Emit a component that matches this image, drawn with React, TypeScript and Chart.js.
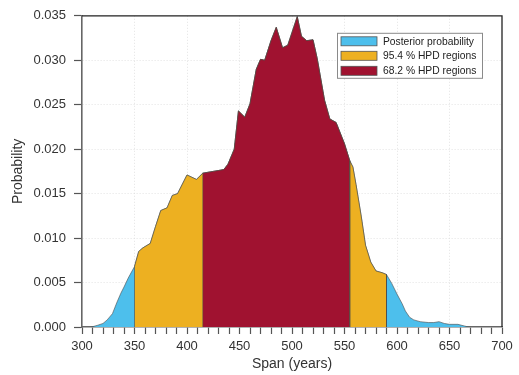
import React, { useEffect, useRef } from "react";
import { Chart, registerables } from "chart.js";

Chart.register(...registerables);

// Span (years) sampled along the posterior curve
const spanYears = [
  309, 315, 320, 324, 329, 333, 337, 340, 344, 350,
  354, 358, 365, 370, 375, 381, 386, 391, 400, 409,
  415, 425, 435, 439, 445, 449, 455, 460, 466, 470,
  474, 480, 485, 491, 496, 505, 509, 514, 520, 524,
  531, 536, 542, 550, 555, 558, 561, 566, 570, 575,
  580, 586, 590, 595, 600, 605, 608, 612, 616, 622,
  630, 635, 640, 645, 650, 658, 668,
];
// Probability at each span
const probability = [
  0, 0.0002, 0.0004, 0.0008, 0.0015, 0.0027, 0.0038, 0.0045, 0.0055, 0.0068,
  0.0085, 0.0089, 0.0094, 0.0113, 0.0131, 0.0134, 0.0148, 0.015, 0.0171, 0.0166,
  0.0173, 0.0175, 0.0177, 0.0183, 0.02, 0.0243, 0.0236, 0.0251, 0.029, 0.0301,
  0.03, 0.0322, 0.0337, 0.0314, 0.0317, 0.0349, 0.0327, 0.0322, 0.0323, 0.0302,
  0.0255, 0.0234, 0.023, 0.0206, 0.0187, 0.018, 0.016, 0.0124, 0.0092, 0.0073,
  0.0063, 0.0061, 0.0059, 0.0049, 0.0037, 0.0026, 0.0018, 0.0011, 0.0008, 0.0006,
  0.0005, 0.0005, 0.0006, 0.0004, 0.0003, 0.0003, 0,
];

const fullRange = [309, 668];
const hpd954 = [350, 590];
const hpd682 = [415, 555];

const seriesLabels = ["Posterior probability", "95.4 % HPD regions", "68.2 % HPD regions"];
const seriesColors = ["#4DBFEC", "#EDB021", "#A01230"];

const xMin = 300;
const xMax = 700;
const yMin = 0;
const yMax = 0.035;

function regionPoints(range: number[]) {
  const [lo, hi] = range;
  const pts: { x: number; y: number }[] = [{ x: lo, y: 0 }];
  for (let i = 0; i < spanYears.length; i++) {
    if (spanYears[i] >= lo && spanYears[i] <= hi) pts.push({ x: spanYears[i], y: probability[i] });
  }
  pts.push({ x: hi, y: 0 });
  return pts;
}

const FONT = "'Liberation Sans', Arial, Helvetica, sans-serif";

const framePlugin = {
  id: "frame",
  afterDraw(chart: any) {
    const { ctx, chartArea } = chart;
    const { left, right, top, bottom } = chartArea;
    ctx.save();
    ctx.strokeStyle = "#222";
    ctx.lineWidth = 1.3;
    ctx.beginPath();
    ctx.moveTo(left, top);
    ctx.lineTo(right, top);
    ctx.lineTo(right, bottom);
    ctx.stroke();
    ctx.restore();
  },
};

const legendBoxPlugin = {
  id: "legendBox",
  afterDraw(chart: any) {
    const { ctx, chartArea } = chart;
    const bx = chartArea.right - 165;
    const by = chartArea.top + 17;
    const bw = 145;
    const bh = 45;
    ctx.save();
    ctx.fillStyle = "#fff";
    ctx.fillRect(bx, by, bw, bh);
    ctx.strokeStyle = "#8a8a8a";
    ctx.lineWidth = 1;
    ctx.strokeRect(bx + 0.5, by + 0.5, bw, bh);
    ctx.font = `10.3px ${FONT}`;
    ctx.textBaseline = "middle";
    ctx.textAlign = "left";
    const rows = [by + 4, by + 18.5, by + 33.5];
    seriesLabels.forEach((lab, i) => {
      const sy = rows[i];
      ctx.fillStyle = seriesColors[i];
      ctx.fillRect(bx + 4, sy, 36, 9);
      ctx.strokeStyle = "#555";
      ctx.lineWidth = 0.8;
      ctx.strokeRect(bx + 4, sy, 36, 9);
      ctx.fillStyle = "#222";
      ctx.fillText(lab, bx + 46, sy + 5);
    });
    ctx.restore();
  },
};

export default function App() {
  const ref = useRef<HTMLCanvasElement | null>(null);

  useEffect(() => {
    document.body.style.margin = "0";
    const canvas = ref.current;
    if (!canvas) return;
    const ranges = [fullRange, hpd954, hpd682];
    const chart = new Chart(canvas, {
      type: "line",
      data: {
        datasets: ranges.map((r, i) => ({
          label: seriesLabels[i],
          data: regionPoints(r),
          backgroundColor: seriesColors[i],
          borderColor: "#4a4a4a",
          borderWidth: 0.6,
          pointRadius: 0,
          tension: 0,
          fill: "origin",
          order: 3 - i,
        })),
      },
      options: {
        responsive: false,
        animation: false,
        layout: { padding: { top: 15, right: 17, left: 0, bottom: 0 } },
        plugins: {
          legend: { display: false },
          tooltip: { enabled: false },
        },
        scales: {
          x: {
            type: "linear",
            min: xMin,
            max: xMax,
            afterFit: (s: any) => {
              s.height = 48;
            },
            ticks: {
              stepSize: 10,
              autoSkip: false,
              maxRotation: 0,
              padding: 5,
              color: "#333",
              font: { family: FONT, size: 13 },
              callback: (v: any) => (Number(v) % 50 === 0 ? String(v) : ""),
            },
            grid: {
              color: (c: any) =>
                c.tick && c.tick.value % 50 === 0 && c.tick.value !== xMin && c.tick.value !== xMax
                  ? "#dcdcdc"
                  : "rgba(0,0,0,0)",
              lineWidth: 0.8,
              tickColor: "#555",
              tickLength: 7,
              tickWidth: 1.2,
            },
            border: { display: true, color: "#666", width: 1.6, dash: [1, 2] },
            title: {
              display: true,
              text: "Span (years)",
              color: "#333",
              font: { family: FONT, size: 14 },
              padding: { top: 0, bottom: 2 },
            },
          },
          y: {
            type: "linear",
            min: yMin,
            max: yMax,
            afterFit: (s: any) => {
              s.width = 82;
            },
            ticks: {
              stepSize: 0.005,
              padding: 8,
              color: "#333",
              font: { family: FONT, size: 13 },
              callback: (v: any) => Number(v).toFixed(3),
            },
            grid: {
              color: (c: any) =>
                c.tick && c.tick.value > yMin + 1e-9 && c.tick.value < yMax - 1e-9 ? "#dcdcdc" : "rgba(0,0,0,0)",
              lineWidth: 0.8,
              tickColor: "#555",
              tickLength: 8,
              tickWidth: 1.2,
            },
            border: { display: true, color: "#666", width: 1.6, dash: [1, 2] },
            title: {
              display: true,
              text: "Probability",
              color: "#333",
              font: { family: FONT, size: 14 },
              padding: { top: 10, bottom: 0 },
            },
          },
        },
      },
      plugins: [framePlugin, legendBoxPlugin],
    } as any);
    return () => chart.destroy();
  }, []);

  return (
    <div style={{ width: 519, height: 375, background: "#fff" }}>
      <canvas ref={ref} width={519} height={375} />
    </div>
  );
}
